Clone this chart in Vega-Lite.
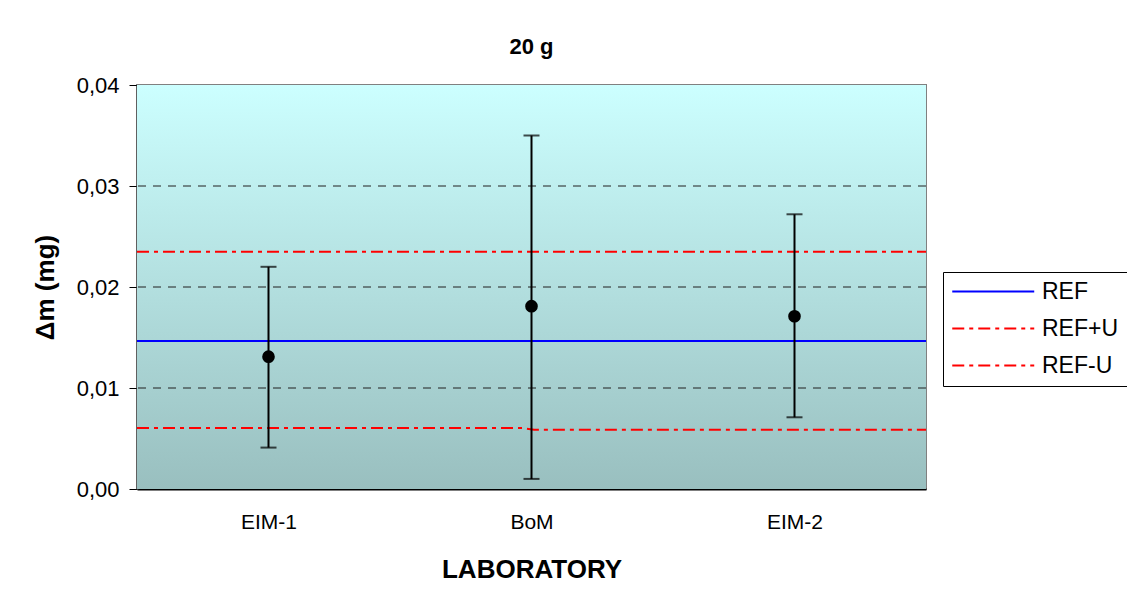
{
  "$schema": "https://vega.github.io/schema/vega-lite/v6.json",
  "width": 789,
  "height": 404,
  "autosize": {"type": "none"},
  "padding": {"left": 137, "top": 85, "right": 201, "bottom": 115},
  "background": "white",
  "config": {
    "font": "Liberation Sans",
    "view": {"stroke": "#808080", "strokeWidth": 2}
  },
  "title": {"text": "20 g", "fontSize": 22, "fontWeight": "bold", "font": "Liberation Sans", "color": "black", "offset": 15, "anchor": "middle"},
  "datasets": {
    "labs": [
      {"pos": 1, "lab": "EIM-1", "dm": 0.0131, "lo": 0.0041, "hi": 0.0220},
      {"pos": 2, "lab": "BoM", "dm": 0.0181, "lo": 0.0010, "hi": 0.0350},
      {"pos": 3, "lab": "EIM-2", "dm": 0.0171, "lo": 0.0071, "hi": 0.0272}
    ],
    "refs": [
      {"series": "REF", "x": 0.5, "v": 0.01465},
      {"series": "REF", "x": 3.5, "v": 0.01465},
      {"series": "REF+U", "x": 0.5, "v": 0.02348},
      {"series": "REF+U", "x": 3.5, "v": 0.02348},
      {"series": "REF-U", "x": 0.5, "v": 0.00604},
      {"series": "REF-U", "x": 1.965, "v": 0.00604},
      {"series": "REF-U", "x": 2.01, "v": 0.00587},
      {"series": "REF-U", "x": 3.5, "v": 0.00587}
    ],
    "grid": [{"g": 0.01}, {"g": 0.02}, {"g": 0.03}]
  },
  "layer": [
    {
      "data": {"values": [{}]},
      "mark": {"type": "rect", "fill": {"gradient": "linear", "x1": 0, "y1": 0, "x2": 0, "y2": 1, "stops": [{"offset": 0, "color": "#ccffff"}, {"offset": 1, "color": "#99bfbf"}]}},
      "encoding": {
        "x": {"datum": 0.5, "type": "quantitative", "scale": {"domain": [0.5, 3.5], "nice": false, "zero": false},
          "axis": {"values": [1, 2, 3], "labelExpr": "datum.value == 1 ? 'EIM-1' : datum.value == 2 ? 'BoM' : datum.value == 3 ? 'EIM-2' : ''", "ticks": false, "grid": false, "domainColor": "black", "domainWidth": 2, "labelFontSize": 21, "labelColor": "black", "labelPadding": 22, "title": "LABORATORY", "titleFontSize": 26, "titleFontWeight": "bold", "titleColor": "black", "titlePadding": 24}},
        "x2": {"datum": 3.5},
        "y": {"datum": 0, "type": "quantitative", "scale": {"domain": [0, 0.04], "nice": false},
          "axis": {"values": [0, 0.01, 0.02, 0.03, 0.04], "labelExpr": "replace(format(datum.value, '.2f'), '.', ',')", "grid": false, "tickSize": 8, "tickColor": "black", "tickWidth": 1, "domainColor": "#404040", "domainWidth": 2, "labelFontSize": 22, "labelColor": "black", "labelPadding": 10, "title": "Δm (mg)", "titleFontSize": 26, "titleFontWeight": "bold", "titleColor": "black", "titlePadding": 18}},
        "y2": {"datum": 0.04}
      }
    },
    {
      "data": {"name": "grid"},
      "mark": {"type": "rule", "color": "#202020", "strokeWidth": 1, "strokeDash": [8, 7]},
      "encoding": {"y": {"field": "g", "type": "quantitative"}}
    },
    {
      "data": {"name": "refs"},
      "mark": {"type": "line", "strokeWidth": 2},
      "encoding": {
        "x": {"field": "x", "type": "quantitative"},
        "y": {"field": "v", "type": "quantitative"},
        "color": {"field": "series", "type": "nominal", "scale": {"domain": ["REF", "REF+U", "REF-U"], "range": ["#0000ff", "#ff0000", "#ff0000"]},
          "legend": {"title": null, "orient": "none", "legendX": 806, "legendY": 187, "fillColor": "white", "strokeColor": "black", "padding": 8, "labelFontSize": 23, "labelColor": "black", "labelOffset": 68, "symbolType": "M-1,0H7", "symbolSize": 420, "symbolStrokeWidth": 2, "rowPadding": 13}},
        "strokeDash": {"field": "series", "type": "nominal", "scale": {"domain": ["REF", "REF+U", "REF-U"], "range": [[1, 0], [12, 5, 4, 5], [12, 5, 4, 5]]}, "legend": null}
      }
    },
    {
      "data": {"name": "labs"},
      "mark": {"type": "rule", "color": "black", "strokeWidth": 2},
      "encoding": {"x": {"field": "pos", "type": "quantitative"}, "y": {"field": "lo", "type": "quantitative"}, "y2": {"field": "hi"}}
    },
    {
      "data": {"name": "labs"},
      "mark": {"type": "tick", "orient": "horizontal", "color": "black", "size": 16, "thickness": 2},
      "encoding": {"x": {"field": "pos", "type": "quantitative"}, "y": {"field": "lo", "type": "quantitative"}}
    },
    {
      "data": {"name": "labs"},
      "mark": {"type": "tick", "orient": "horizontal", "color": "black", "size": 16, "thickness": 2},
      "encoding": {"x": {"field": "pos", "type": "quantitative"}, "y": {"field": "hi", "type": "quantitative"}}
    },
    {
      "data": {"name": "labs"},
      "mark": {"type": "point", "shape": "circle", "filled": true, "color": "black", "size": 160, "opacity": 1},
      "encoding": {"x": {"field": "pos", "type": "quantitative"}, "y": {"field": "dm", "type": "quantitative"}}
    }
  ]
}
